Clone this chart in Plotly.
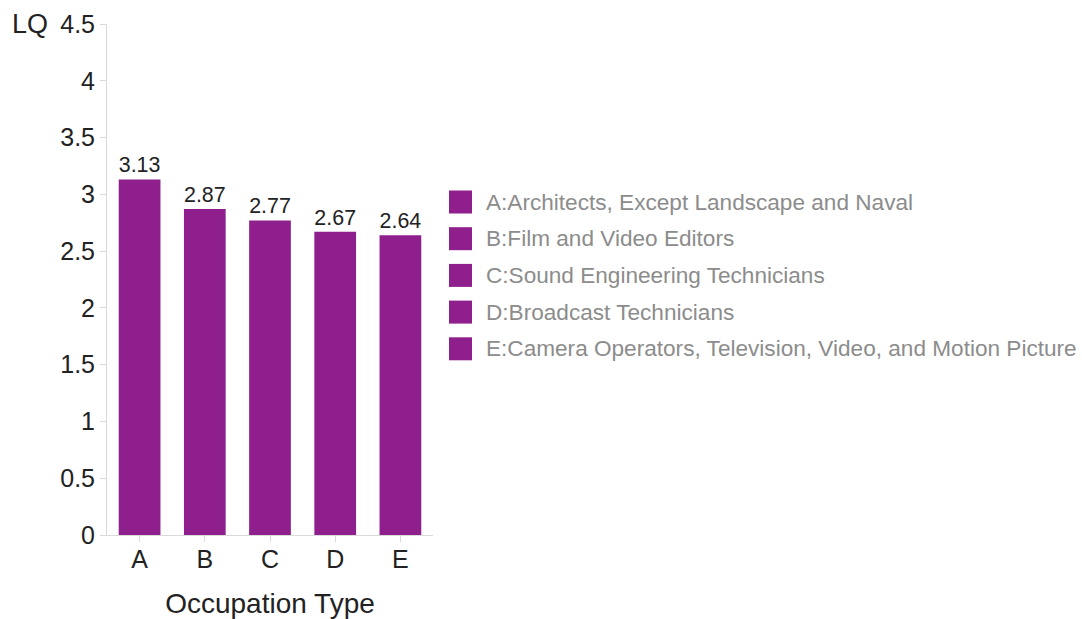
import plotly.graph_objects as go

# Location quotient by occupation type
codes = ["A", "B", "C", "D", "E"]
occupations = [
    "Architects, Except Landscape and Naval",
    "Film and Video Editors",
    "Sound Engineering Technicians",
    "Broadcast Technicians",
    "Camera Operators, Television, Video, and Motion Picture",
]
lq_values = [3.13, 2.87, 2.77, 2.67, 2.64]
y_ticks = [0, 0.5, 1, 1.5, 2, 2.5, 3, 3.5, 4, 4.5]

BAR_COLOR = "#901f8e"
FONT = "Liberation Sans, Arial, sans-serif"

W, H = 1082, 619
L, R, T, B = 107, 649, 24, 84
plot_w = W - L - R
plot_h = H - T - B

fig = go.Figure()
fig.add_trace(go.Bar(
    x=codes,
    y=lq_values,
    marker=dict(color=BAR_COLOR, line=dict(width=0)),
    text=[f"{v:.2f}" for v in lq_values],
    textposition="outside",
    textfont=dict(size=25, color="#222222", family=FONT),
    cliponaxis=False,
    showlegend=False,
    width=0.64,
))

# Legend drawn as coloured squares with labels to the right of the plot
legend_top_px = 202
legend_step_px = 36.7
sq_px = 23
sq_left_px = 449
shapes = []
annotations = []
for i, (code, name) in enumerate(zip(codes, occupations)):
    cy = legend_top_px + i * legend_step_px
    x0 = (sq_left_px - L) / plot_w
    x1 = (sq_left_px + sq_px - L) / plot_w
    y0 = (H - B - (cy + sq_px / 2)) / plot_h
    y1 = (H - B - (cy - sq_px / 2)) / plot_h
    shapes.append(dict(type="rect", xref="paper", yref="paper",
                       x0=x0, x1=x1, y0=y0, y1=y1,
                       fillcolor=BAR_COLOR, line=dict(width=0)))
    annotations.append(dict(
        xref="paper", yref="paper",
        x=(484 - L) / plot_w, y=(H - B - cy) / plot_h,
        xanchor="left", yanchor="middle", showarrow=False,
        text=f"{code}:{name}",
        font=dict(size=22.6, color="#8c8c8c", family=FONT),
    ))

# Y axis title placed horizontally at the top-left
annotations.append(dict(
    xref="paper", yref="paper", x=(50 - L) / plot_w, y=1.0,
    xanchor="right", yanchor="middle", showarrow=False,
    text="LQ", font=dict(size=27, color="#222222", family=FONT),
))

fig.update_layout(
    width=W, height=H,
    margin=dict(l=L, r=R, t=T, b=B),
    plot_bgcolor="white", paper_bgcolor="white",
    font=dict(family=FONT, color="#222222"),
    shapes=shapes,
    annotations=annotations,
    xaxis=dict(
        range=[-0.5, 4.5],
        automargin=False,
        showline=True, linecolor="#d9d9d9", linewidth=1,
        ticks="outside", tickcolor="#d9d9d9", ticklen=6,
        ticklabelstandoff=-4,
        tickfont=dict(size=25, color="#222222"),
        showgrid=False, zeroline=False,
        title=dict(text="Occupation Type", font=dict(size=28, color="#222222"), standoff=22),
    ),
    yaxis=dict(
        range=[0, 4.5],
        automargin=False,
        tickvals=y_ticks,
        ticktext=[f"{v:g}" for v in y_ticks],
        showline=True, linecolor="#d9d9d9", linewidth=1,
        ticks="outside", tickcolor="#d9d9d9", ticklen=6,
        tickfont=dict(size=25, color="#222222"),
        showgrid=False, zeroline=False,
    ),
)

fig.write_html("out.html")
